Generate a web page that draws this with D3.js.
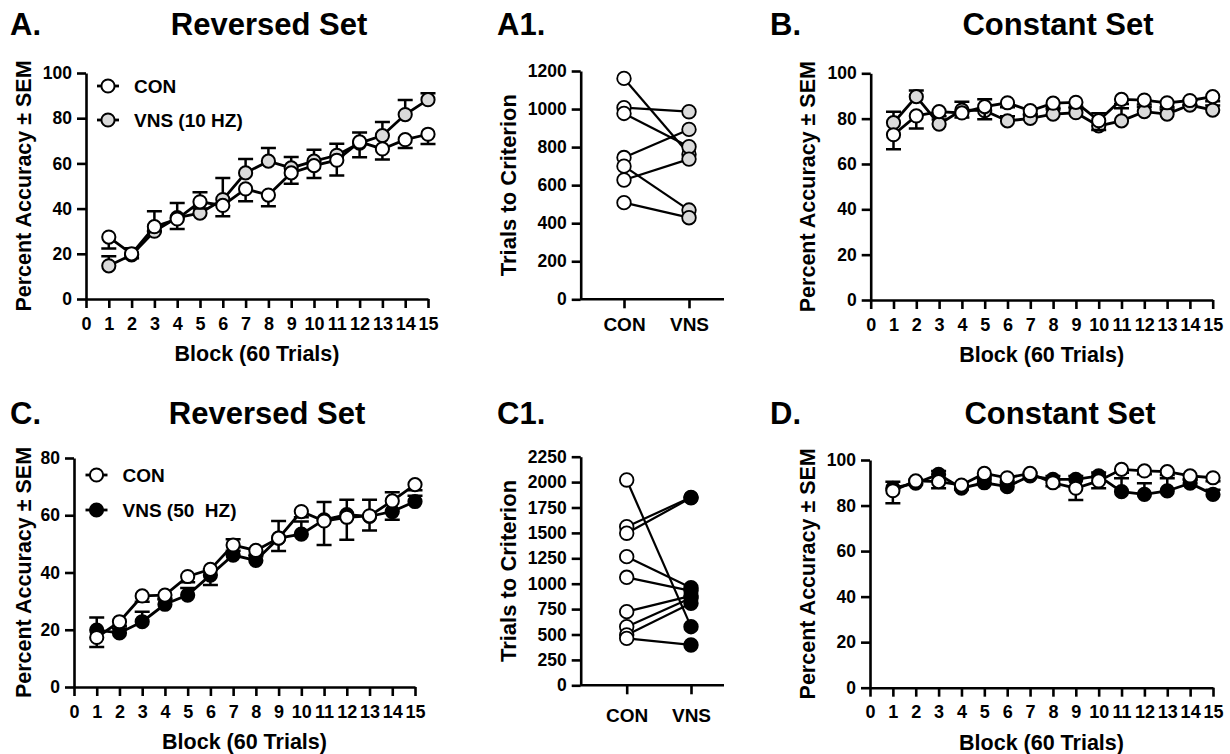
<!DOCTYPE html>
<html><head><meta charset="utf-8">
<script src="https://cdn.jsdelivr.net/npm/d3@7"></script>
<style>
body{margin:0;background:#fff;}
text{white-space:pre;}
</style></head><body>
<svg id="fig" width="1230" height="754" style="display:block;background:#fff"></svg>
<script>
// ---------------- DATA ----------------
const blocks = [1,2,3,4,5,6,7,8,9,10,11,12,13,14,15];
const xTickLabels = [0,1,2,3,4,5,6,7,8,9,10,11,12,13,14,15];
const accTicks = [0,20,40,60,80,100];
const accTicksC = [0,20,40,60,80];
const a1Ticks = [0,200,400,600,800,1000,1200];
const c1Ticks = [0,250,500,750,1000,1250,1500,1750,2000,2250];
const groups = ["CON","VNS"];

// Panel A: Reversed Set, CON vs VNS (10 HZ)  (CON SEM drawn downward, VNS SEM upward)
const aConMean = [27.4,20,32,35.4,43,41.4,48.7,46,55.8,59,61.4,69.5,66.4,70.5,72.9];
const aConSem  = [5,2,2,4.4,3,4.8,5.5,5,4.8,5.5,6.8,6.8,4.7,3.7,4.3];
const aVnsMean = [14.7,19.5,30,36,38,44,55.8,61,58,61,63.6,69,72.3,81.6,88.2];
const aVnsSem  = [4.2,3,8.8,6.5,9.2,9.5,6.2,5.8,4.8,5,5.1,4.7,6,6.4,2.8];

// Panel A1: trials to criterion (paired)
const a1Con = [1161,1007,977,745,700,627,508];
const a1Vns = [762,986,802,893,469,737,429];

// Panel B: Constant Set, CON vs VNS (10 HZ)
const bConMean = [72.9,81.2,83.1,82.5,85.3,87,83.5,86.8,87.2,79.1,88.5,88.2,87,88,89.7];
const bConSem  = [6.4,5.5,2,2,5.6,2,2,2,2,4.1,2,2,2,2,2];
const bVnsMean = [78.2,89.7,77.6,83.8,83.5,79,80.1,82,82.6,76.8,79,83.1,82,86,83.8];
const bVnsSem  = [4.8,2.7,2,3.7,5,2,2,2,2,5.6,5.6,2,2,2,2];

// Panel C: Reversed Set, CON vs VNS (50 HZ)
const cConMean = [17.3,22.8,31.8,32.1,38.6,41.1,49.6,47.7,52,61.3,58,59.3,59.8,65,70.7];
const cConSem  = [3.3,1.5,2,1.5,2,5.5,2,2,4.5,2,8.4,7.9,5.1,6.6,2];
const cVnsMean = [19.9,18.9,22.8,28.9,32.1,39.1,46.1,44.2,52,53.4,58.4,60.2,59.6,61.3,64.8];
const cVnsSem  = [4.4,1.5,3.5,2,2.5,2,5.5,2,6,4.4,6.2,5.2,5.8,6.7,2];

// Panel C1: trials to criterion (paired)
const c1Con = [2021,1561,1497,1266,1063,725,577,495,462];
const c1Vns = [577,1850,1845,960,930,880,860,807,397];

// Panel D: Constant Set, CON vs VNS (50 HZ)
const dConMean = [86.5,90.8,90.5,89,94.1,92.2,94.1,90,87.6,90.8,95.9,95.2,94.9,93,92.2];
const dConSem  = [5.5,1.5,2.9,2,1.5,1.5,1.5,1.5,5.2,3.2,1.5,1.5,1.5,1.5,1.5];
const dVnsMean = [87.6,89.8,93.7,87.6,90,88.3,93,91.5,91.5,93,86.1,84.9,86.4,89.8,84.9];
const dVnsSem  = [2.9,1.5,1.5,1.5,1.5,1.5,1.5,1.5,1.5,1.5,5.9,4.9,5.6,1.5,2];

// ---------------- DRAWING ----------------
const FONT = '"Liberation Sans", Arial, Helvetica, sans-serif';
const GREY = "#dadada";
const svg = d3.select("#fig");

function txt(x, y, s, size, anchor, rot) {
  const t = svg.append("text")
    .attr("font-family", FONT).attr("font-weight", "bold")
    .attr("font-size", size).attr("fill", "#000")
    .attr("text-anchor", anchor || "start").text(s);
  if (rot) t.attr("transform", `translate(${x},${y}) rotate(${rot})`);
  else t.attr("x", x).attr("y", y);
  return t;
}

function styleAxis(g, fs) {
  g.selectAll("path.domain").attr("stroke", "#000").attr("stroke-width", 2.6);
  g.selectAll(".tick line").attr("stroke", "#000").attr("stroke-width", 2.6);
  g.selectAll(".tick text").attr("font-size", fs).attr("font-weight", "bold")
    .attr("font-family", FONT).attr("fill", "#000");
}

function linePanel(p) {
  const x = d3.scaleLinear().domain([0, 15]).range([p.left, p.right]);
  const y = d3.scaleLinear().domain([0, p.yMax]).range([p.bottom, p.top]);
  const g = svg.append("g");
  const ax = g.append("g").attr("transform", `translate(0,${p.bottom})`)
    .call(d3.axisBottom(x).tickValues(xTickLabels).tickFormat(d3.format("d"))
      .tickSize(9).tickSizeOuter(0).tickPadding(9));
  styleAxis(ax, 18);
  const ay = g.append("g").attr("transform", `translate(${p.left},0)`)
    .call(d3.axisLeft(y).tickValues(p.yTicks).tickFormat(d3.format("d")).tickSize(9).tickSizeOuter(0).tickPadding(5));
  styleAxis(ay, 17.5);

  p.series.forEach(s => {
    const pts = blocks.map((b, i) => ({ b, m: s.mean[i], e: s.sem[i] }));
    const eg = g.append("g").attr("stroke", "#000").attr("stroke-width", 2.5).attr("fill", "none");
    pts.forEach(d => {
      const xx = x(d.b), y0 = y(d.m), y1 = y(d.m + s.dir * d.e);
      eg.append("path").attr("d", `M${xx},${y0}V${y1}M${xx - 7.5},${y1}H${xx + 7.5}`);
    });
    g.append("path").datum(pts)
      .attr("d", d3.line().x(d => x(d.b)).y(d => y(d.m)))
      .attr("fill", "none").attr("stroke", "#000").attr("stroke-width", 2.8);
    g.append("g").selectAll("circle").data(pts).enter().append("circle")
      .attr("cx", d => x(d.b)).attr("cy", d => y(d.m)).attr("r", 6.6)
      .attr("fill", s.fill).attr("stroke", "#000").attr("stroke-width", 2);
  });

  if (p.legend) {
    p.legend.forEach((l, i) => {
      const ly = p.legendY + i * p.legendGap;
      g.append("line").attr("x1", p.legendX - 11).attr("x2", p.legendX + 11)
        .attr("y1", ly).attr("y2", ly).attr("stroke", "#000").attr("stroke-width", 2.8);
      g.append("circle").attr("cx", p.legendX).attr("cy", ly).attr("r", 6.6)
        .attr("fill", l.fill).attr("stroke", "#000").attr("stroke-width", 2);
      txt(p.legendX + 26, ly + 7, l.label, 19, "start");
    });
  }
  txt(p.ylabX, (p.top + p.bottom) / 2, "Percent Accuracy ± SEM", 21.5, "middle", -90);
  txt((p.left + p.right) / 2, p.bottom + 62, "Block (60 Trials)", 21.5, "middle");
}

function pairedPanel(p) {
  const x = d3.scalePoint().domain(groups).range([p.cx0, p.cx1]);
  const y = d3.scaleLinear().domain([0, p.yMax]).range([p.bottom, p.top]);
  const g = svg.append("g");
  const ax = g.append("g").attr("transform", `translate(0,${p.bottom})`)
    .call(d3.axisBottom(x).tickSize(9).tickSizeOuter(0).tickPadding(p.xPad));
  ax.select("path.domain").attr("d", `M${p.left},0H${p.right}`);
  styleAxis(ax, 19);
  const ay = g.append("g").attr("transform", `translate(${p.left},0)`)
    .call(d3.axisLeft(y).tickValues(p.yTicks).tickFormat(d3.format("d")).tickSize(9).tickSizeOuter(0).tickPadding(5));
  styleAxis(ay, 17.5);

  const pairs = p.con.map((c, i) => ({ c, v: p.vns[i] }));
  g.append("g").selectAll("line").data(pairs).enter().append("line")
    .attr("x1", x("CON")).attr("x2", x("VNS"))
    .attr("y1", d => y(d.c)).attr("y2", d => y(d.v))
    .attr("stroke", "#000").attr("stroke-width", 2.2);
  g.append("g").selectAll("circle").data(p.con).enter().append("circle")
    .attr("cx", x("CON")).attr("cy", d => y(d)).attr("r", 6.8)
    .attr("fill", "#fff").attr("stroke", "#000").attr("stroke-width", 1.8);
  g.append("g").selectAll("circle").data(p.vns).enter().append("circle")
    .attr("cx", x("VNS")).attr("cy", d => y(d)).attr("r", 6.8)
    .attr("fill", p.fill).attr("stroke", "#000").attr("stroke-width", 1.8);
  txt(p.ylabX, (p.top + p.bottom) / 2, "Trials to Criterion", 22, "middle", -90);
}

// Titles
txt(10, 35, "A.", 31, "start");
txt(269, 35, "Reversed Set", 31, "middle");
txt(497, 35, "A1.", 31, "start");
txt(770, 35, "B.", 31, "start");
txt(1058, 35, "Constant Set", 31, "middle");
txt(10, 424, "C.", 31, "start");
txt(267, 424, "Reversed Set", 31, "middle");
txt(497, 424, "C1.", 31, "start");
txt(770, 424, "D.", 31, "start");
txt(1060, 424, "Constant Set", 31, "middle");

linePanel({
  left: 86, right: 428, top: 73, bottom: 299, yMax: 100, yTicks: accTicks, ylabX: 31,
  series: [{ mean: aVnsMean, sem: aVnsSem, fill: GREY, dir: 1 }, { mean: aConMean, sem: aConSem, fill: "#fff", dir: -1 }],
  legend: [{ label: "CON", fill: "#fff" }, { label: "VNS (10 HZ)", fill: GREY }],
  legendX: 108, legendY: 86, legendGap: 34
});
pairedPanel({
  left: 580.7, right: 724, top: 71, bottom: 299.3, yMax: 1200, yTicks: a1Ticks, xPad: 9,
  cx0: 624, cx1: 689, con: a1Con, vns: a1Vns, fill: GREY, ylabX: 516
});
linePanel({
  left: 870.7, right: 1212.7, top: 73.3, bottom: 300, yMax: 100, yTicks: accTicks, ylabX: 815,
  series: [{ mean: bVnsMean, sem: bVnsSem, fill: GREY, dir: 1 }, { mean: bConMean, sem: bConSem, fill: "#fff", dir: -1 }]
});
linePanel({
  left: 74, right: 415, top: 458, bottom: 687, yMax: 80, yTicks: accTicksC, ylabX: 31,
  series: [{ mean: cVnsMean, sem: cVnsSem, fill: "#000", dir: 1 }, { mean: cConMean, sem: cConSem, fill: "#fff", dir: -1 }],
  legend: [{ label: "CON", fill: "#fff" }, { label: "VNS (50  HZ)", fill: "#000" }],
  legendX: 96.5, legendY: 475, legendGap: 35
});
pairedPanel({
  left: 580.7, right: 724, top: 456.7, bottom: 685.3, yMax: 2250, yTicks: c1Ticks, xPad: 14,
  cx0: 626.7, cx1: 691, con: c1Con, vns: c1Vns, fill: "#000", ylabX: 516
});
linePanel({
  left: 870, right: 1213, top: 460, bottom: 687.7, yMax: 100, yTicks: accTicks, ylabX: 815,
  series: [{ mean: dVnsMean, sem: dVnsSem, fill: "#000", dir: 1 }, { mean: dConMean, sem: dConSem, fill: "#fff", dir: -1 }]
});
</script>
</body></html>
